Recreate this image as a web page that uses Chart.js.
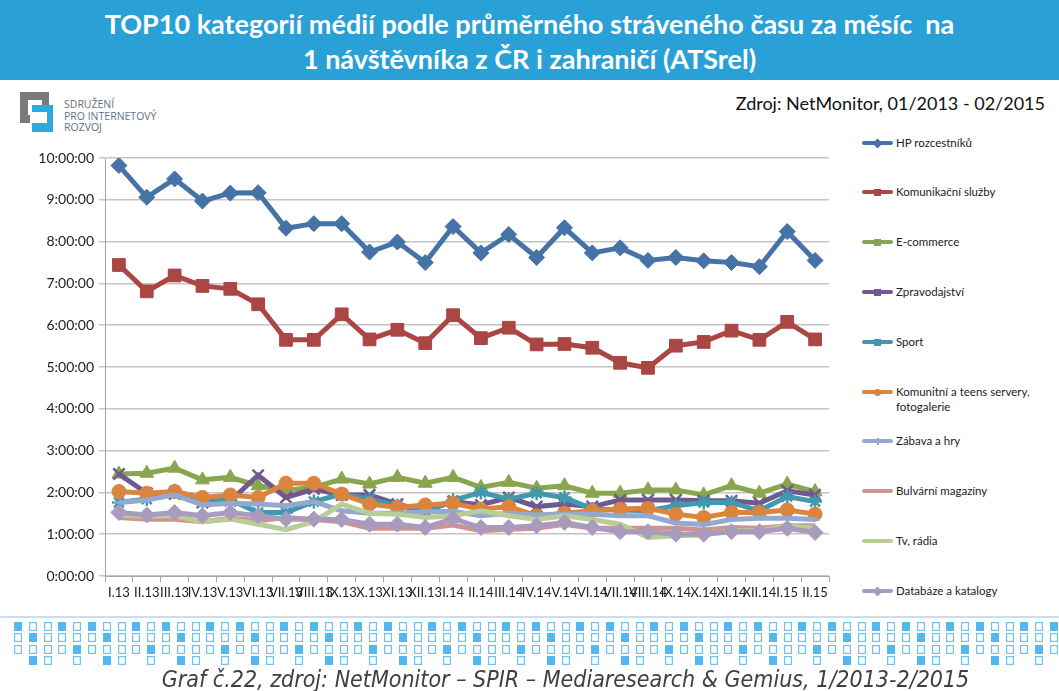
<!DOCTYPE html>
<html lang="cs">
<head>
<meta charset="utf-8">
<title>TOP10 kategorií médií</title>
<script src="https://cdn.jsdelivr.net/npm/chart.js@4.4.1/dist/chart.umd.min.js"></script>
<style>
  html, body { margin: 0; padding: 0; background: #fff; }
  body { width: 1059px; height: 691px; position: relative; overflow: hidden; font-family: Lato, "Open Sans", sans-serif; }
  #banner {
    position: absolute; left: 0; top: 0; width: 1059px; height: 80px;
    background: #29a1d6; color: #fff; font-weight: bold; font-size: 27px;
    text-align: center; line-height: 35px; padding-top: 6px; box-sizing: border-box;
  }
  #logo { position: absolute; left: 20px; top: 92px; width: 40px; height: 42px; }
  #logo div { position: absolute; }
  .g { background: #7a7a7a; }
  .b { background: #2ea8e0; }
  #logoText { position: absolute; left: 64px; top: 99px; font-size: 10.5px; line-height: 11.5px; color: #5f7183; font-family: "Open Sans", sans-serif; }
  #source { position: absolute; right: 14px; top: 92px; font-size: 18px; color: #111; }
  #chartBox { position: absolute; left: 0; top: 140px; width: 850px; height: 470px; }
  #legend { position: absolute; left: 862px; top: 0; font-size: 11.5px; color: #222; }
  .item { position: absolute; left: 0; width: 200px; }
  .item .ln { position: absolute; left: 0; width: 31px; height: 4px; border-radius: 2px; }
  .item .mk { position: absolute; left: 12px; width: 7px; height: 7px; }
  .item .tx { position: absolute; left: 34px; white-space: nowrap; line-height: 15px; }
  #pattern { position: absolute; left: 0; top: 612px; }
  #caption { position: absolute; left: 0; width: 1059px; top: 666px; text-align: center; font-style: italic; font-size: 23px; color: #404040; padding-left: 72px; box-sizing: border-box; font-family: "DejaVu Sans Condensed", "Open Sans", sans-serif; }
</style>
</head>
<body>
<div id="banner">TOP10 kategorií médií podle průměrného stráveného času za měsíc&nbsp; na<br>1 návštěvníka z ČR i zahraničí (ATSrel)</div>

<div id="logo">
  <div class="g" style="left:0;top:0;width:29px;height:8px"></div>
  <div class="g" style="left:0;top:0;width:8px;height:31px"></div>
  <div class="g" style="left:22px;top:8px;width:7px;height:5px"></div>
  <div class="b" style="left:12px;top:13px;width:21px;height:7px"></div>
  <div class="b" style="left:27px;top:13px;width:6px;height:27px"></div>
  <div class="b" style="left:12px;top:31px;width:21px;height:9px"></div>
  <div class="g" style="left:0;top:23px;width:10px;height:8px"></div>
</div>
<div id="logoText">SDRUŽENÍ<br>PRO INTERNETOVÝ<br>ROZVOJ</div>

<div id="source">Zdroj: NetMonitor, 01/2013 - 02/2015</div>

<div id="chartBox"><canvas id="chart"></canvas></div>
<div id="legend"></div>

<canvas id="pattern" width="1059" height="56"></canvas>
<div id="caption">Graf č.22, zdroj: NetMonitor – SPIR – Mediaresearch &amp; Gemius, 1/2013-2/2015</div>

<script>
// categories (months)
const months = ['I.13', 'II.13', 'III.13', 'IV.13', 'V.13', 'VI.13', 'VII.13', 'VIII.13', 'IX.13', 'X.13', 'XI.13', 'XII.13',
                'I.14', 'II.14', 'III.14', 'IV.14', 'V.14', 'VI.14', 'VII.14', 'VIII.14', 'IX.14', 'X.14', 'XI.14', 'XII.14',
                'I.15', 'II.15'];

// values in hours per month
const hpRozcestniky = [9.82, 9.06, 9.50, 8.97, 9.16, 9.17, 8.32, 8.43, 8.43, 7.75, 7.99, 7.50, 8.36, 7.73, 8.17, 7.62, 8.33, 7.73, 7.85, 7.55, 7.62, 7.54, 7.50, 7.40, 8.24, 7.55];
const komunikacni = [7.44, 6.81, 7.19, 6.94, 6.87, 6.50, 5.65, 5.65, 6.26, 5.66, 5.89, 5.57, 6.24, 5.69, 5.94, 5.54, 5.55, 5.46, 5.10, 4.98, 5.51, 5.60, 5.87, 5.65, 6.08, 5.66];
const ecommerce = [2.44, 2.46, 2.58, 2.30, 2.36, 2.16, 2.05, 2.12, 2.32, 2.20, 2.36, 2.22, 2.36, 2.12, 2.24, 2.10, 2.16, 1.98, 1.98, 2.06, 2.06, 1.94, 2.16, 1.98, 2.20, 2.02];
const zpravodajstvi = [2.44, 1.98, 1.96, 1.76, 1.80, 2.41, 1.88, 2.08, 1.94, 1.94, 1.72, 1.56, 1.78, 1.70, 1.88, 1.66, 1.72, 1.66, 1.82, 1.82, 1.82, 1.80, 1.80, 1.74, 2.04, 1.94];
const sport = [1.76, 1.84, 2.04, 1.80, 1.82, 1.52, 1.52, 1.78, 1.96, 1.84, 1.68, 1.56, 1.81, 2.00, 1.84, 1.98, 1.88, 1.60, 1.58, 1.56, 1.68, 1.76, 1.76, 1.56, 1.90, 1.78];
const komunitni = [2.02, 1.98, 2.02, 1.88, 1.94, 1.88, 2.22, 2.22, 1.96, 1.72, 1.64, 1.70, 1.74, 1.60, 1.66, 1.44, 1.50, 1.56, 1.60, 1.62, 1.48, 1.40, 1.52, 1.52, 1.58, 1.48];
const zabava = [1.76, 1.82, 1.94, 1.70, 1.74, 1.72, 1.68, 1.78, 1.56, 1.50, 1.50, 1.54, 1.55, 1.44, 1.50, 1.46, 1.48, 1.48, 1.44, 1.44, 1.27, 1.23, 1.35, 1.38, 1.38, 1.35];
const bulvarni = [1.40, 1.36, 1.36, 1.30, 1.38, 1.32, 1.40, 1.35, 1.30, 1.14, 1.14, 1.14, 1.22, 1.08, 1.12, 1.14, 1.24, 1.14, 1.14, 1.14, 1.14, 1.10, 1.16, 1.14, 1.20, 1.20];
const tvRadia = [1.46, 1.43, 1.44, 1.30, 1.36, 1.24, 1.11, 1.30, 1.72, 1.50, 1.48, 1.40, 1.44, 1.56, 1.44, 1.35, 1.44, 1.35, 1.24, 0.92, 0.96, 0.98, 1.08, 1.08, 1.20, 1.14];
const databaze = [1.52, 1.46, 1.52, 1.44, 1.52, 1.44, 1.36, 1.36, 1.35, 1.24, 1.24, 1.16, 1.37, 1.16, 1.16, 1.20, 1.28, 1.16, 1.06, 1.06, 1.00, 1.00, 1.06, 1.06, 1.14, 1.04];

const yTicks = [0, 1, 2, 3, 4, 5, 6, 7, 8, 9, 10];

const series = [
  { name: 'HP rozcestníků', data: hpRozcestniky, color: '#4572a7', style: 'rectRot', r: 8 },
  { name: 'Komunikační služby', data: komunikacni, color: '#aa4643', style: 'rect', r: 9 },
  { name: 'E-commerce', data: ecommerce, color: '#89a54e', style: 'triangle', r: 8 },
  { name: 'Zpravodajství', data: zpravodajstvi, color: '#71588f', style: 'crossRot', r: 8 },
  { name: 'Sport', data: sport, color: '#4198af', style: 'star', r: 7 },
  { name: 'Komunitní a teens servery,\nfotogalerie', data: komunitni, color: '#db843d', style: 'circle', r: 7 },
  { name: 'Zábava a hry', data: zabava, color: '#93a9cf', style: 'line', r: 5 },
  { name: 'Bulvární magazíny', data: bulvarni, color: '#d19392', style: 'circle', r: 0 },
  { name: 'Tv, rádia', data: tvRadia, color: '#b9cd96', style: 'circle', r: 0 },
  { name: 'Databáze a katalogy', data: databaze, color: '#a99bbd', style: 'rectRot', r: 8 }
];

function hms(v) { return v + ':00:00'; }

const ctx = document.getElementById('chart').getContext('2d');
new Chart(ctx, {
  type: 'line',
  data: {
    labels: months,
    datasets: series.map((s, i) => ({
      label: s.name,
      data: s.data,
      borderColor: s.color,
      backgroundColor: s.color,
      borderWidth: 5,
      tension: 0,
      pointStyle: s.style,
      pointRadius: s.r,
      pointBorderWidth: s.style === 'crossRot' || s.style === 'star' || s.style === 'line' ? 2.5 : 1,
      pointBorderColor: s.color,
      pointBackgroundColor: s.color,
      order: 10 - i
    }))
  },
  options: {
    responsive: true,
    maintainAspectRatio: false,
    animation: false,
    layout: { padding: { top: 18, right: 21, left: 0, bottom: 0 } },
    plugins: { legend: { display: false }, tooltip: { enabled: false } },
    scales: {
      x: {
        offset: true,
        grid: { offset: true, drawOnChartArea: false, tickLength: 6, color: '#a6a6a6', lineWidth: 1 },
        border: { color: '#a6a6a6', width: 1 },
        ticks: { autoSkip: false, maxRotation: 0, minRotation: 0, padding: 3, color: '#222', font: { family: 'Lato', size: 13 } },
        afterFit: (s) => { s.height = 34; }
      },
      y: {
        min: 0,
        max: 10,
        afterBuildTicks: (s) => { s.ticks = yTicks.map(v => ({ value: v })); },
        grid: { color: '#c4c4c4', lineWidth: 1.5, tickLength: 6 },
        border: { color: '#a6a6a6', width: 1 },
        ticks: { padding: 5, color: '#222', font: { family: 'Lato', size: 14 }, callback: hms },
        afterFit: (s) => { s.width = 105; }
      }
    }
  }
});

// legend on the right
const legendTops = [143, 192, 242, 292, 342, 392, 441, 491, 541, 591];
const legend = document.getElementById('legend');
series.forEach((s, i) => {
  const item = document.createElement('div');
  item.className = 'item';
  item.style.top = (legendTops[i] - 8) + 'px';
  const ln = document.createElement('div');
  ln.className = 'ln';
  ln.style.background = s.color;
  ln.style.top = '6px';
  item.appendChild(ln);
  if (s.r > 0) {
    const mk = document.createElement('div');
    mk.className = 'mk';
    mk.style.background = s.color;
    mk.style.top = '4.5px';
    if (s.style === 'rectRot') mk.style.transform = 'rotate(45deg)';
    if (s.style === 'circle') mk.style.borderRadius = '50%';
    if (s.style === 'line') { mk.style.width = '2px'; mk.style.left = '15px'; }
    item.appendChild(mk);
  }
  const tx = document.createElement('div');
  tx.className = 'tx';
  tx.innerHTML = s.name.replace('\n', '<br>');
  item.appendChild(tx);
  legend.appendChild(item);
});

// decorative square pattern at the bottom
const pc = document.getElementById('pattern').getContext('2d');
pc.fillStyle = '#c9def0';
pc.fillRect(0, 4, 1059, 2);
const pitch = 14.8;
const rowsY = [10, 21, 33, 44];
for (let row = 0; row < 4; row++) {
  for (let k = 0; k < 72; k++) {
    const m = k % 5;
    let show = true, filled = false;
    if (row === 0) filled = (m === 0 || m === 3);
    if (row === 1) filled = (m === 1);
    if (row === 2) filled = (m === 4);
    if (row === 3) { show = (m === 1 || m === 2 || m === 4); filled = (m === 1); }
    if (!show) continue;
    const x = Math.round(14 + k * pitch);
    const y = rowsY[row];
    if (filled) {
      pc.fillStyle = '#55b7ef';
      pc.fillRect(x, y, 8, 9);
    } else {
      pc.strokeStyle = '#6cc2f2';
      pc.lineWidth = 1.2;
      pc.strokeRect(x + 0.6, y + 0.6, 6.8, 7.8);
    }
  }
}
</script>
</body>
</html>
